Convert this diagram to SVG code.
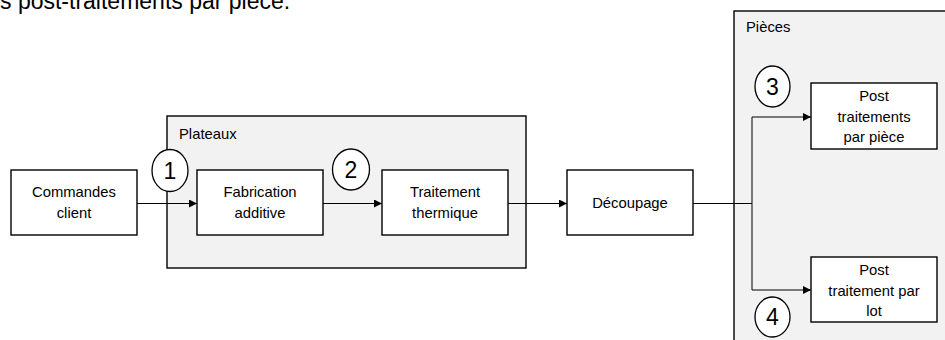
<svg xmlns="http://www.w3.org/2000/svg" width="945" height="340" viewBox="0 0 945 340">
<defs>
<style>
.t{font-family:"Liberation Sans",Arial,sans-serif;font-size:14.8px;fill:#000;text-anchor:middle}
.l{font-family:"Liberation Sans",Arial,sans-serif;font-size:14.8px;fill:#000}
.top{font-family:"Liberation Sans",Arial,sans-serif;font-size:23px;fill:#000}
.n{font-family:"Liberation Sans",Arial,sans-serif;font-size:23px;fill:#000;text-anchor:middle}
.box{fill:#fff;stroke:#000;stroke-width:1.4}
.grp{fill:#f2f2f2;stroke:#000;stroke-width:1.4}
.num{fill:#fff;stroke:#000;stroke-width:1.3}
.c{fill:none;stroke:#000;stroke-width:1;marker-end:url(#ah)}
.c2{fill:none;stroke:#000;stroke-width:1}
</style>
<marker id="ah" viewBox="0 0 10 10" refX="10" refY="5" markerWidth="9" markerHeight="8" markerUnits="userSpaceOnUse" orient="auto">
<path d="M0,0 L10,5 L0,10 Z" fill="#000"/>
</marker>
</defs>
<rect width="945" height="340" fill="#fff"/>
<text class="top" x="0" y="9">s post-traitements par pièce.</text>

<g id="plateaux">
<rect class="grp" x="167" y="116" width="359" height="152"/>
<text class="l" x="179" y="139">Plateaux</text>
</g>
<g id="pieces">
<rect class="grp" x="734" y="11" width="220" height="340"/>
<text class="l" x="746" y="32">Pièces</text>
</g>

<g id="connectors">
<path class="c" d="M137,203.5 H197"/>
<path class="c" d="M323,203.5 H382"/>
<path class="c" d="M508,203.5 H567"/>
<path class="c2" d="M693,203.5 H752"/>
<path class="c" d="M752,203.5 V117 H811"/>
<path class="c" d="M752,203.5 V290 H811"/>
</g>

<g id="commandes">
<rect class="box" x="11" y="170" width="126" height="65"/>
<text class="t" x="74" y="197">Commandes</text>
<text class="t" x="74" y="218">client</text>
</g>
<g id="fabrication">
<rect class="box" x="197" y="170" width="126" height="65"/>
<text class="t" x="260" y="197">Fabrication</text>
<text class="t" x="260" y="218">additive</text>
</g>
<g id="traitement">
<rect class="box" x="382" y="170" width="126" height="65"/>
<text class="t" x="445" y="197">Traitement</text>
<text class="t" x="445" y="218">thermique</text>
</g>
<g id="decoupage">
<rect class="box" x="567" y="170" width="126" height="65"/>
<text class="t" x="630" y="208">Découpage</text>
</g>
<g id="post-piece">
<rect class="box" x="811" y="83" width="126" height="66"/>
<text class="t" x="874" y="101">Post</text>
<text class="t" x="874" y="122">traitements</text>
<text class="t" x="874" y="142">par pièce</text>
</g>
<g id="post-lot">
<rect class="box" x="811" y="257" width="126" height="65"/>
<text class="t" x="874" y="275">Post</text>
<text class="t" x="874" y="296">traitement par</text>
<text class="t" x="874" y="316">lot</text>
</g>

<g id="num1">
<ellipse class="num" cx="170" cy="170.5" rx="18" ry="21"/>
<text class="n" x="170" y="178.5">1</text>
</g>
<g id="num2">
<ellipse class="num" cx="351" cy="169.5" rx="18.5" ry="20.5"/>
<text class="n" x="351" y="177.5">2</text>
</g>
<g id="num3">
<ellipse class="num" cx="772.5" cy="86.5" rx="17.5" ry="20.5"/>
<text class="n" x="772.5" y="94.5">3</text>
</g>
<g id="num4">
<ellipse class="num" cx="772.5" cy="317" rx="17.5" ry="20"/>
<text class="n" x="772.5" y="325">4</text>
</g>
</svg>
